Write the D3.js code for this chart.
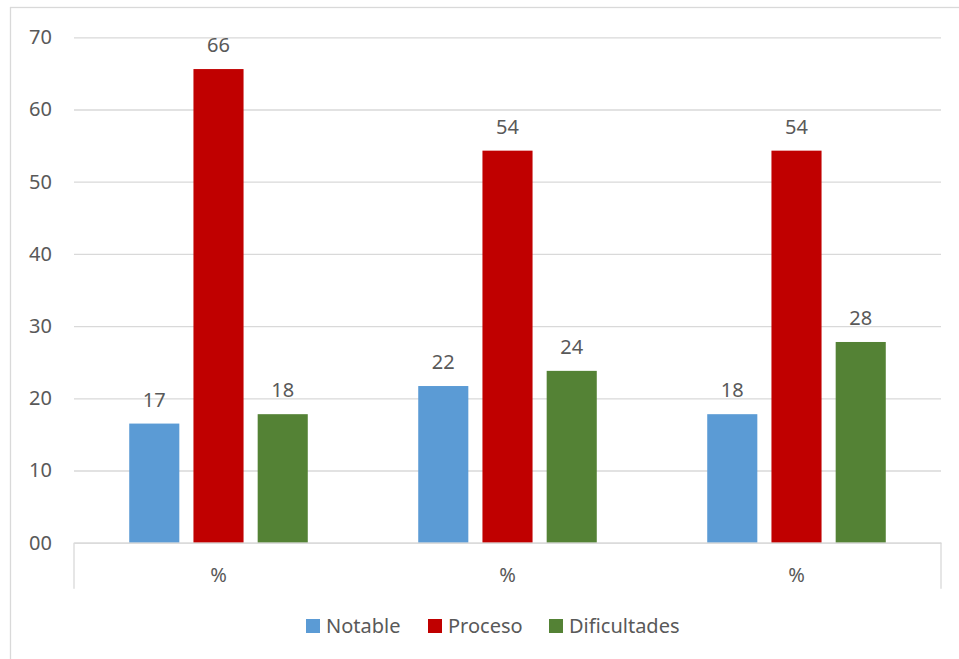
<!DOCTYPE html>
<html>
<head>
<meta charset="utf-8">
<script src="https://cdn.jsdelivr.net/npm/d3@7"></script>
<style>
  body { margin: 0; background: #fff; }
  text { font-family: "Noto Sans", "Open Sans", sans-serif; fill: #595959; }
</style>
</head>
<body>
<script>
const categories = ["%", "%", "%"];
const seriesNames = ["Notable", "Proceso", "Dificultades"];
const seriesColors = ["#5b9bd5", "#c00000", "#548235"];
// bar heights
const notable = [16.5, 21.7, 17.8];
const proceso = [65.6, 54.3, 54.3];
const dificultades = [17.8, 23.8, 27.8];
// data labels printed above the bars
const notableLabels = ["17", "22", "18"];
const procesoLabels = ["66", "54", "54"];
const dificultadesLabels = ["18", "24", "28"];
const yTicks = [0, 10, 20, 30, 40, 50, 60, 70];

const series = [
    { name: seriesNames[0], color: seriesColors[0], values: notable, labels: notableLabels },
    { name: seriesNames[1], color: seriesColors[1], values: proceso, labels: procesoLabels },
    { name: seriesNames[2], color: seriesColors[2], values: dificultades, labels: dificultadesLabels }
];

const W = 959, H = 659;
const plot = { left: 74, right: 941, top: 37.3, bottom: 542.7 };

const svg = d3.select("body").append("svg")
    .attr("width", W)
    .attr("height", H);

// chart frame
svg.append("rect")
    .attr("x", 10.5).attr("y", 7.5)
    .attr("width", W + 10).attr("height", H + 10)
    .attr("fill", "none")
    .attr("stroke", "#d9d9d9")
    .attr("stroke-width", 1.3);

const x = d3.scaleBand()
    .domain(categories.map((d, i) => i))
    .range([plot.left, plot.right])
    .padding(0);

const xInner = d3.scaleBand()
    .domain(seriesNames)
    .range([0, x.bandwidth()])
    .paddingInner(0.22)
    .paddingOuter(0.86);

const y = d3.scaleLinear()
    .domain([0, 70])
    .range([plot.bottom, plot.top]);

// gridlines + y labels
const yAxis = svg.append("g")
    .attr("transform", `translate(${plot.left},0)`)
    .call(d3.axisLeft(y)
        .tickValues(yTicks)
        .tickSize(-(plot.right - plot.left))
        .tickPadding(22)
        .tickFormat(d3.format("02d")));
yAxis.select(".domain").remove();
yAxis.selectAll(".tick line")
    .attr("stroke", "#d9d9d9")
    .attr("stroke-width", 1.3);
yAxis.selectAll(".tick text")
    .attr("font-size", 20)
    .attr("fill", "#595959");

// bars
const groups = svg.selectAll(".group")
    .data(categories)
    .join("g")
    .attr("class", "group")
    .attr("transform", (d, i) => `translate(${x(i)},0)`);

series.forEach(s => {
    groups.append("rect")
        .attr("x", xInner(s.name))
        .attr("y", (d, i) => y(s.values[i]))
        .attr("width", xInner.bandwidth())
        .attr("height", (d, i) => y(0) - y(s.values[i]))
        .attr("fill", s.color);

    groups.append("text")
        .attr("x", xInner(s.name) + xInner.bandwidth() / 2)
        .attr("y", (d, i) => y(s.values[i]) - 17)
        .attr("text-anchor", "middle")
        .attr("font-size", 20)
        .text((d, i) => s.labels[i]);
});

// category axis
const xAxis = svg.append("g")
    .attr("transform", `translate(0,${plot.bottom})`)
    .call(d3.axisBottom(x)
        .tickSize(0)
        .tickPadding(25)
        .tickFormat(i => categories[i]));
xAxis.select(".domain")
    .attr("stroke", "#d9d9d9")
    .attr("stroke-width", 1.3);
xAxis.selectAll(".tick text")
    .attr("font-size", 20)
    .attr("fill", "#595959");

// only the outer ends of the category axis get a divider
xAxis.selectAll(".sep")
    .data(x.range())
    .join("line")
    .attr("class", "sep")
    .attr("x1", d => d).attr("x2", d => d)
    .attr("y1", 0).attr("y2", 46)
    .attr("stroke", "#d9d9d9")
    .attr("stroke-width", 1.3);

// legend
const legendX = [306, 428, 549];
const legend = svg.append("g");
series.forEach((s, i) => {
    legend.append("rect")
        .attr("x", legendX[i]).attr("y", 619)
        .attr("width", 14).attr("height", 14)
        .attr("fill", s.color);
    legend.append("text")
        .attr("x", legendX[i] + 20).attr("y", 633)
        .attr("font-size", 20)
        .text(s.name);
});
</script>
</body>
</html>
